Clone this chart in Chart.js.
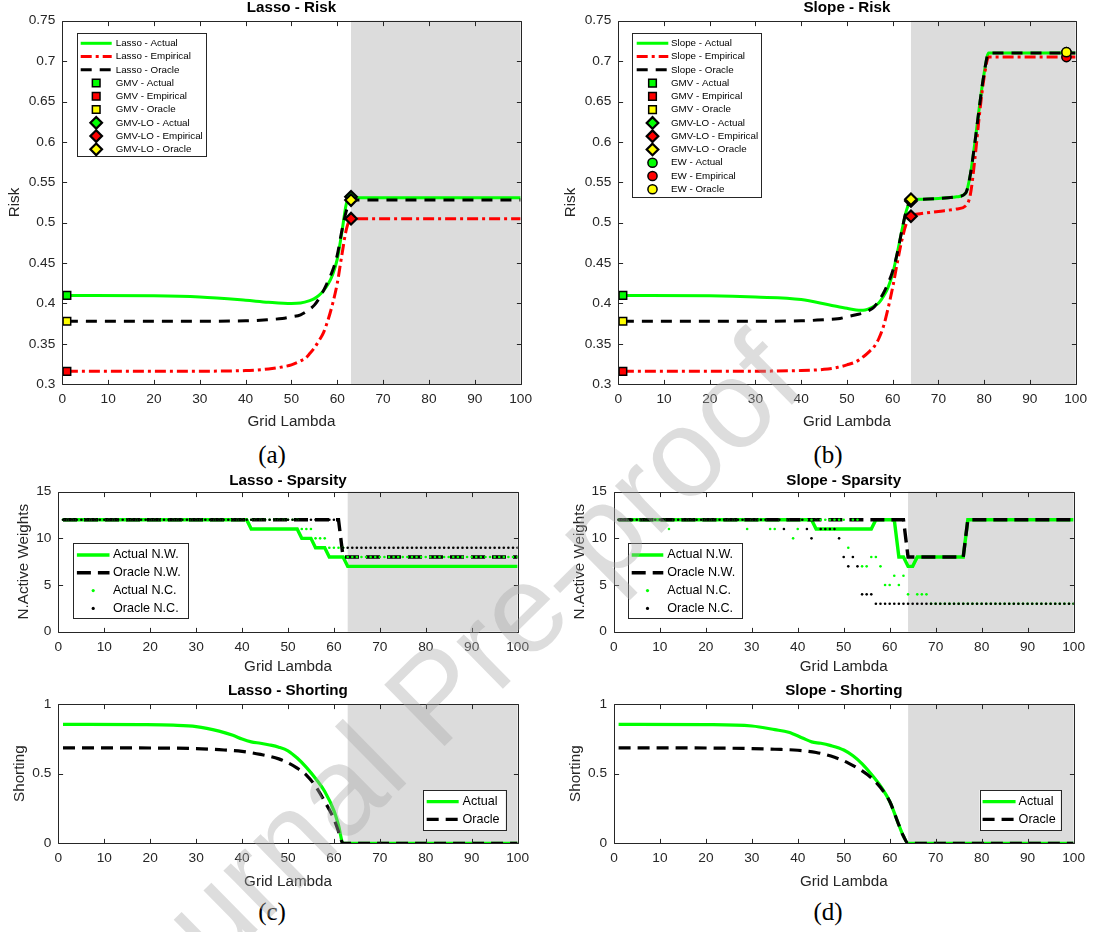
<!DOCTYPE html>
<html>
<head>
<meta charset="utf-8">
<title>Lasso / Slope - risk, sparsity, shorting</title>
<script src="https://cdn.jsdelivr.net/npm/chart.js@4.4.1/dist/chart.umd.min.js"></script>
<style>
  html, body { margin: 0; padding: 0; background: #fff; }
  body { position: relative; width: 1093px; height: 932px; overflow: hidden; }
  canvas { position: absolute; }
  .cap { position: absolute; font-family: "Liberation Serif", "DejaVu Serif", serif; font-size: 25px; color: #000;
         transform: translate(-50%, -50%); white-space: nowrap; }
  #wm { left: 0; top: 0; z-index: 5; pointer-events: none; }
</style>
</head>
<body>
<canvas id="riskLasso"></canvas>
<canvas id="riskSlope"></canvas>
<canvas id="sparLasso"></canvas>
<canvas id="sparSlope"></canvas>
<canvas id="shortLasso"></canvas>
<canvas id="shortSlope"></canvas>
<div class="cap" style="left:272px;top:455px">(a)</div>
<div class="cap" style="left:828px;top:455px">(b)</div>
<div class="cap" style="left:272px;top:912px">(c)</div>
<div class="cap" style="left:828px;top:912px">(d)</div>
<canvas id="wm" width="1093" height="932"></canvas>
<script>
// ---------- axes ----------
const lambdaGrid = Array.from({ length: 100 }, (_, i) => i + 1);
const lambdaTicks = [0, 10, 20, 30, 40, 50, 60, 70, 80, 90, 100];
const lambdaTickLabels = ['0', '10', '20', '30', '40', '50', '60', '70', '80', '90', '100'];
const riskTicks = [0.3, 0.35, 0.4, 0.45, 0.5, 0.55, 0.6, 0.65, 0.7, 0.75];
const riskTickLabels = ['0.3', '0.35', '0.4', '0.45', '0.5', '0.55', '0.6', '0.65', '0.7', '0.75'];
const sparsityTicks = [0, 5, 10, 15];
const sparsityTickLabels = ['0', '5', '10', '15'];
const shortingTicks = [0, 0.5, 1];
const shortingTickLabels = ['0', '0.5', '1'];
const shadedFrom = [63, 64]; // lasso, slope

// ---------- risk (a), (b) ----------
const lassoActualX = [1, 20, 30, 40, 45, 50, 52, 54, 55, 56, 57, 58, 59, 60, 61, 62, 63, 100];
const lassoActualY = [0.410, 0.4095, 0.408, 0.404, 0.4015, 0.400, 0.4005, 0.4035, 0.406, 0.410, 0.416, 0.424, 0.436, 0.455, 0.488, 0.524, 0.531, 0.531];
const lassoEmpiricalX = [1, 20, 40, 45, 48, 50, 52, 53, 54, 55, 56, 57, 58, 59, 60, 61, 62, 63, 100];
const lassoEmpiricalY = [0.316, 0.316, 0.317, 0.319, 0.3215, 0.324, 0.329, 0.332, 0.338, 0.345, 0.354, 0.364, 0.38, 0.40, 0.425, 0.46, 0.492, 0.505, 0.505];
const lassoOracleX = [1, 20, 40, 45, 48, 50, 52, 54, 55, 56, 57, 58, 59, 60, 61, 62, 63, 100];
const lassoOracleY = [0.378, 0.378, 0.3785, 0.380, 0.3815, 0.3835, 0.386, 0.393, 0.398, 0.406, 0.416, 0.428, 0.441, 0.46, 0.49, 0.515, 0.528, 0.528];

const slopeActualX = [1, 20, 30, 40, 46, 50, 52, 53, 54, 55, 56, 57, 58, 59, 60, 61, 62, 63, 64, 66, 70, 74, 76, 77, 78, 79, 80, 81, 100];
const slopeActualY = [0.410, 0.4095, 0.408, 0.405, 0.3985, 0.394, 0.392, 0.3915, 0.392, 0.394, 0.397, 0.401, 0.409, 0.42, 0.437, 0.462, 0.49, 0.515, 0.527, 0.529, 0.530, 0.532, 0.537, 0.56, 0.60, 0.645, 0.685, 0.71, 0.71];
const slopeEmpiricalX = [1, 20, 40, 45, 48, 50, 52, 54, 55, 56, 57, 58, 59, 60, 61, 62, 63, 64, 66, 70, 74, 76, 77, 78, 79, 80, 81, 100];
const slopeEmpiricalY = [0.316, 0.316, 0.317, 0.3185, 0.321, 0.324, 0.328, 0.336, 0.341, 0.347, 0.357, 0.372, 0.394, 0.42, 0.45, 0.478, 0.499, 0.508, 0.511, 0.514, 0.517, 0.521, 0.535, 0.58, 0.635, 0.68, 0.705, 0.705];
const slopeOracleX = [1, 20, 40, 45, 48, 50, 52, 54, 55, 56, 57, 58, 59, 60, 61, 62, 63, 64, 66, 70, 74, 76, 77, 78, 79, 80, 81, 100];
const slopeOracleY = [0.378, 0.378, 0.3785, 0.380, 0.381, 0.3835, 0.386, 0.389, 0.392, 0.396, 0.404, 0.413, 0.425, 0.44, 0.462, 0.49, 0.515, 0.528, 0.529, 0.530, 0.532, 0.537, 0.56, 0.60, 0.645, 0.685, 0.71, 0.71];

// markers: [actual, empirical, oracle]
const gmvLambda = 1;
const gmvRisk = [0.410, 0.316, 0.378];
const gmvloLambda = [63, 64]; // lasso, slope
const gmvloLassoRisk = [0.532, 0.505, 0.528];
const gmvloSlopeRisk = [0.527, 0.508, 0.529];
const ewLambda = 98;
const ewSlopeRisk = [0.711, 0.705, 0.711];

// ---------- sparsity (c), (d) : one value per lambda 1..100 ----------
const lassoActualNW = [
  12, 12, 12, 12, 12, 12, 12, 12, 12, 12,
  12, 12, 12, 12, 12, 12, 12, 12, 12, 12,
  12, 12, 12, 12, 12, 12, 12, 12, 12, 12,
  12, 12, 12, 12, 12, 12, 12, 12, 12, 12,
  12, 11, 11, 11, 11, 11, 11, 11, 11, 11,
  11, 11, 10, 10, 10, 9, 9, 9, 8, 8,
  8, 8, 7, 7, 7, 7, 7, 7, 7, 7,
  7, 7, 7, 7, 7, 7, 7, 7, 7, 7,
  7, 7, 7, 7, 7, 7, 7, 7, 7, 7,
  7, 7, 7, 7, 7, 7, 7, 7, 7, 7];
const lassoOracleNW = [
  12, 12, 12, 12, 12, 12, 12, 12, 12, 12,
  12, 12, 12, 12, 12, 12, 12, 12, 12, 12,
  12, 12, 12, 12, 12, 12, 12, 12, 12, 12,
  12, 12, 12, 12, 12, 12, 12, 12, 12, 12,
  12, 12, 12, 12, 12, 12, 12, 12, 12, 12,
  12, 12, 12, 12, 12, 12, 12, 12, 12, 12,
  12, 8, 8, 8, 8, 8, 8, 8, 8, 8,
  8, 8, 8, 8, 8, 8, 8, 8, 8, 8,
  8, 8, 8, 8, 8, 8, 8, 8, 8, 8,
  8, 8, 8, 8, 8, 8, 8, 8, 8, 8];
const lassoActualNC = [
  12, 12, 12, 12, 12, 12, 12, 12, 12, 12,
  12, 12, 12, 12, 12, 12, 12, 12, 12, 12,
  12, 12, 12, 12, 12, 12, 12, 12, 12, 12,
  12, 12, 12, 12, 12, 12, 12, 12, 12, 12,
  12, 12, 12, 12, 12, 12, 12, 12, 12, 12,
  12, 12, 11, 11, 11, 10, 10, 10, 9, 9,
  9, 9, 8, 8, 8, 8, 8, 8, 8, 8,
  8, 8, 8, 8, 8, 8, 8, 8, 8, 8,
  8, 8, 8, 8, 8, 8, 8, 8, 8, 8,
  8, 8, 8, 8, 8, 8, 8, 8, 8, 8];
const lassoOracleNC = [
  12, 12, 12, 12, 12, 12, 12, 12, 12, 12,
  12, 12, 12, 12, 12, 12, 12, 12, 12, 12,
  12, 12, 12, 12, 12, 12, 12, 12, 12, 12,
  12, 12, 12, 12, 12, 12, 12, 12, 12, 12,
  12, 12, 12, 12, 12, 12, 12, 12, 12, 12,
  12, 12, 12, 12, 12, 12, 12, 12, 12, 12,
  12, 9, 9, 9, 9, 9, 9, 9, 9, 9,
  9, 9, 9, 9, 9, 9, 9, 9, 9, 9,
  9, 9, 9, 9, 9, 9, 9, 9, 9, 9,
  9, 9, 9, 9, 9, 9, 9, 9, 9, 9];

const slopeActualNW = [
  12, 12, 12, 12, 12, 12, 12, 12, 12, 12,
  12, 12, 12, 12, 12, 12, 12, 12, 12, 12,
  12, 12, 12, 12, 12, 12, 12, 12, 12, 12,
  12, 12, 12, 12, 12, 12, 12, 12, 12, 12,
  12, 12, 12, 11, 11, 11, 11, 11, 11, 11,
  11, 11, 11, 11, 11, 11, 12, 12, 12, 12,
  12, 8, 8, 7, 7, 8, 8, 8, 8, 8,
  8, 8, 8, 8, 8, 8, 12, 12, 12, 12,
  12, 12, 12, 12, 12, 12, 12, 12, 12, 12,
  12, 12, 12, 12, 12, 12, 12, 12, 12, 12];
const slopeOracleNW = [
  12, 12, 12, 12, 12, 12, 12, 12, 12, 12,
  12, 12, 12, 12, 12, 12, 12, 12, 12, 12,
  12, 12, 12, 12, 12, 12, 12, 12, 12, 12,
  12, 12, 12, 12, 12, 12, 12, 12, 12, 12,
  12, 12, 12, 12, 12, 12, 12, 12, 12, 12,
  12, 12, 12, 12, 12, 12, 12, 12, 12, 12,
  12, 12, 12, 8, 8, 8, 8, 8, 8, 8,
  8, 8, 8, 8, 8, 8, 12, 12, 12, 12,
  12, 12, 12, 12, 12, 12, 12, 12, 12, 12,
  12, 12, 12, 12, 12, 12, 12, 12, 12, 12];
const slopeActualNC = [
  12, 12, 12, 12, 12, 12, 12, 12, 12, 12,
  12, 11, 12, 12, 12, 12, 12, 12, 12, 12,
  12, 12, 12, 12, 12, 12, 12, 12, 11, 12,
  12, 12, 12, 11, 11, 12, 12, 12, 10, 11,
  12, 12, 12, 12, 12, 12, 12, 12, 12, 12,
  9, 12, 12, 7, 7, 8, 8, 7, 5, 5,
  6, 5, 6, 4, 7, 4, 4, 4, 3, 3,
  3, 3, 3, 3, 3, 3, 3, 3, 3, 3,
  3, 3, 3, 3, 3, 3, 3, 3, 3, 3,
  3, 3, 3, 3, 3, 3, 3, 3, 3, 3];
const slopeOracleNC = [
  12, 12, 12, 12, 12, 12, 12, 12, 12, 12,
  12, 12, 12, 12, 12, 12, 12, 12, 12, 12,
  12, 12, 12, 12, 12, 12, 12, 12, 12, 12,
  12, 12, 12, 12, 12, 12, 11, 12, 12, 12,
  12, 11, 10, 12, 11, 11, 11, 11, 10, 8,
  7, 8, 7, 4, 4, 4, 3, 3, 3, 3,
  3, 3, 3, 3, 3, 3, 3, 3, 3, 3,
  3, 3, 3, 3, 3, 3, 3, 3, 3, 3,
  3, 3, 3, 3, 3, 3, 3, 3, 3, 3,
  3, 3, 3, 3, 3, 3, 3, 3, 3, 3];

// ---------- shorting (c), (d) ----------
const lassoShortActualX = [1, 18, 25, 30, 35, 38, 40, 42, 44, 46, 48, 50, 52, 54, 56, 58, 60, 61, 62, 100];
const lassoShortActualY = [0.854, 0.852, 0.848, 0.838, 0.805, 0.775, 0.748, 0.728, 0.718, 0.706, 0.690, 0.664, 0.612, 0.545, 0.465, 0.372, 0.235, 0.13, 0, 0];
const lassoShortOracleX = [1, 20, 30, 35, 40, 44, 48, 50, 52, 54, 56, 58, 60, 61, 62, 100];
const lassoShortOracleY = [0.685, 0.684, 0.68, 0.672, 0.66, 0.638, 0.606, 0.578, 0.54, 0.49, 0.41, 0.30, 0.175, 0.085, 0, 0];
const slopeShortActualX = [1, 20, 30, 35, 38, 41, 43, 45, 47, 50, 52, 54, 56, 58, 60, 62, 63, 64, 100];
const slopeShortActualY = [0.854, 0.852, 0.842, 0.816, 0.797, 0.756, 0.728, 0.718, 0.703, 0.67, 0.628, 0.57, 0.495, 0.41, 0.30, 0.13, 0.05, 0, 0];
const slopeShortOracleX = [1, 20, 30, 35, 40, 44, 48, 51, 54, 56, 58, 60, 62, 63, 64, 100];
const slopeShortOracleY = [0.685, 0.684, 0.68, 0.675, 0.668, 0.652, 0.618, 0.576, 0.52, 0.47, 0.40, 0.30, 0.13, 0.05, 0, 0];

// ---------- styling ----------
const GREEN = '#00ff00', RED = '#ff0000', BLACK = '#000000', YELLOW = '#ffff00';
const SHADE = '#dcdcdc', AXIS = '#262626';
const FONT = '"Liberation Sans", Arial, Helvetica, sans-serif';
Chart.defaults.font.family = FONT;

function curve(label, xs, ys, color, width, dash) {
  return { label, data: xs.map((x, i) => ({ x, y: ys[i] })), borderColor: color, backgroundColor: color,
    borderWidth: width, borderDash: dash || [], pointRadius: 0, cubicInterpolationMode: 'monotone', showLine: true };
}
function steps(label, ys, color, width, dash) {
  return { label, data: ys.map((y, i) => ({ x: lambdaGrid[i], y })), borderColor: color, backgroundColor: color,
    borderWidth: width, borderDash: dash || [], pointRadius: 0, tension: 0, showLine: true };
}
function dots(label, ys, color) {
  return { label, data: ys.map((y, i) => ({ x: lambdaGrid[i], y })), showLine: false, pointStyle: 'circle',
    pointRadius: 1.3, pointBackgroundColor: color, pointBorderColor: color, pointBorderWidth: 0, borderColor: color };
}
function marker(label, x, y, style, fill, r, bw) {
  return { label, data: [{ x, y }], showLine: false, pointStyle: style, pointRadius: r,
    pointBackgroundColor: fill, pointBorderColor: '#000', pointBorderWidth: bw };
}

function drawMarker(ctx, style, x, y, r, fill, stroke, lw) {
  ctx.beginPath();
  if (style === 'rect') {
    const s = r * Math.SQRT1_2;
    ctx.rect(x - s, y - s, 2 * s, 2 * s);
  } else if (style === 'rectRot') {
    ctx.moveTo(x, y - r); ctx.lineTo(x + r, y); ctx.lineTo(x, y + r); ctx.lineTo(x - r, y); ctx.closePath();
  } else {
    ctx.arc(x, y, r, 0, Math.PI * 2);
  }
  ctx.fillStyle = fill; ctx.fill();
  if (lw) { ctx.lineWidth = lw; ctx.strokeStyle = stroke; ctx.stroke(); }
}

// grey band after the selected lambda
const shadePlugin = {
  id: 'shade',
  beforeDatasetsDraw(chart, args, opts) {
    if (opts.from == null) return;
    const { ctx, chartArea: a } = chart;
    const px = chart.scales.x.getPixelForValue(opts.from);
    ctx.save();
    ctx.fillStyle = SHADE;
    ctx.fillRect(px, a.top, a.right - px, a.bottom - a.top);
    ctx.restore();
  }
};

// matlab style box with inward ticks on all four sides
const boxPlugin = {
  id: 'mbox',
  afterDatasetsDraw(chart) {
    const { ctx, chartArea: a, scales: { x, y } } = chart;
    const L = Math.round(a.left) + 0.5, R = Math.round(a.right) + 0.5;
    const T = Math.round(a.top) + 0.5, B = Math.round(a.bottom) + 0.5;
    const len = 4.6;
    ctx.save();
    ctx.strokeStyle = AXIS; ctx.lineWidth = 1;
    ctx.beginPath();
    ctx.rect(L, T, R - L, B - T);
    x.ticks.forEach(t => {
      const px = Math.round(x.getPixelForValue(t.value)) + 0.5;
      ctx.moveTo(px, B); ctx.lineTo(px, B - len);
      ctx.moveTo(px, T); ctx.lineTo(px, T + len);
    });
    y.ticks.forEach(t => {
      const py = Math.round(y.getPixelForValue(t.value)) + 0.5;
      ctx.moveTo(L, py); ctx.lineTo(L + len, py);
      ctx.moveTo(R, py); ctx.lineTo(R - len, py);
    });
    ctx.stroke();
    ctx.restore();
  }
};

// legend drawn inside the axes, like matlab
const legendPlugin = {
  id: 'mlegend',
  afterDraw(chart, args, o) {
    if (!o.w) return;
    const { ctx, chartArea: a } = chart;
    const bx = o.right != null ? a.right - o.right - o.w : a.left + o.left;
    const by = a.top + o.top;
    ctx.save();
    ctx.fillStyle = '#fff';
    ctx.fillRect(bx, by, o.w, o.h);
    ctx.strokeStyle = AXIS; ctx.lineWidth = 1;
    ctx.strokeRect(Math.round(bx) + 0.5, Math.round(by) + 0.5, Math.round(o.w), Math.round(o.h));
    ctx.font = o.font + 'px ' + FONT;
    ctx.textBaseline = 'middle';
    ctx.textAlign = 'left';
    chart.data.datasets.forEach((ds, i) => {
      const cy = by + o.first + i * o.step;
      if (ds.showLine) {
        ctx.beginPath();
        ctx.setLineDash(ds.borderDash || []);
        ctx.lineWidth = ds.borderWidth; ctx.strokeStyle = ds.borderColor;
        ctx.moveTo(bx + o.s0, cy); ctx.lineTo(bx + o.s1, cy);
        ctx.stroke();
        ctx.setLineDash([]);
      } else {
        const r = ds.pointRadius < 2 ? 1.6 : ds.pointRadius;
        drawMarker(ctx, ds.pointStyle, bx + (o.s0 + o.s1) / 2, cy, r, ds.pointBackgroundColor, ds.pointBorderColor, ds.pointBorderWidth);
      }
      ctx.fillStyle = '#000';
      ctx.fillText(ds.label, bx + o.tx, cy);
    });
    ctx.restore();
  }
};

Chart.register(shadePlugin, boxPlugin, legendPlugin);

// page positions: canvas left/top, plot box, title / axis-label centres
const geom = {
  riskLasso:  { cl: 0,   ct: 0,   pl: 62.3,  pt: 20.7,  pr: 523,  pb: 384.3, titleY: 7.7, xTitleY: 421.5, yTitleX: 15 },
  riskSlope:  { cl: 556, ct: 0,   pl: 618.3, pt: 20.7,  pr: 1078, pb: 384.3, titleY: 7.7, xTitleY: 421.5, yTitleX: 571 },
  sparLasso:  { cl: 0,   ct: 470, pl: 58.4,  pt: 491.7, pr: 520,  pb: 631.7, titleY: 481, xTitleY: 667,   yTitleX: 24 },
  sparSlope:  { cl: 556, ct: 470, pl: 613.8, pt: 491.7, pr: 1076, pb: 631.7, titleY: 481, xTitleY: 667,   yTitleX: 579.6 },
  shortLasso: { cl: 0,   ct: 680, pl: 58.4,  pt: 704,   pr: 520,  pb: 843.3, titleY: 691, xTitleY: 881.5, yTitleX: 19.8 },
  shortSlope: { cl: 556, ct: 680, pl: 614,   pt: 704,   pr: 1076, pb: 843.3, titleY: 691, xTitleY: 881.5, yTitleX: 575.4 }
};

function build(id, cfg) {
  const g = geom[id];
  const cv = document.getElementById(id);
  const w = Math.round(g.pr + 16 - g.cl);
  const h = Math.round(g.xTitleY + 12 - g.ct);
  cv.width = w; cv.height = h;
  cv.style.left = g.cl + 'px'; cv.style.top = g.ct + 'px';
  cv.style.width = w + 'px'; cv.style.height = h + 'px';

  const titleSize = 15.2, labelSize = 15.2, labelLH = labelSize * 1.2;
  const tPadTop = g.titleY - g.ct - titleSize / 2;
  const tPadBottom = g.pt - g.ct - titleSize - tPadTop;
  const yAxisW = g.pl - g.cl;
  const xAxisH = h - (g.pb - g.ct);
  const rightPad = w - (g.pr - g.cl);
  const xTitlePad = (g.ct + h) - g.xTitleY - labelLH / 2;
  const yTitlePad = g.yTitleX - g.cl - labelLH / 2;
  const n = cfg.datasets.length;
  cfg.datasets.forEach((d, i) => { d.order = n - i; });

  return new Chart(cv, {
    type: 'line',
    data: { datasets: cfg.datasets },
    options: {
      responsive: false,
      animation: false,
      devicePixelRatio: 1,
      events: [],
      layout: { padding: { left: 0, top: 0, right: rightPad, bottom: 0 } },
      scales: {
        x: {
          type: 'linear', min: 0, max: 100,
          grid: { display: false, drawTicks: false }, border: { display: false },
          afterBuildTicks: s => { s.ticks = lambdaTicks.map(v => ({ value: v })); },
          afterFit: s => { s.height = xAxisH; },
          ticks: { autoSkip: false, maxRotation: 0, padding: 7, color: AXIS, font: { size: 13.7 },
                   callback: (v, i) => lambdaTickLabels[i] },
          title: { display: true, text: 'Grid Lambda', color: AXIS, font: { size: labelSize },
                   padding: { top: 0, bottom: xTitlePad } }
        },
        y: {
          type: 'linear', min: cfg.yTicks[0], max: cfg.yTicks[cfg.yTicks.length - 1],
          grid: { display: false, drawTicks: false }, border: { display: false },
          afterBuildTicks: s => { s.ticks = cfg.yTicks.map(v => ({ value: v })); },
          afterFit: s => { s.width = yAxisW; },
          ticks: { autoSkip: false, padding: 7, color: AXIS, font: { size: 13.7 },
                   callback: (v, i) => cfg.yLabels[i] },
          title: { display: true, text: cfg.yTitle, color: AXIS, font: { size: labelSize },
                   padding: { top: yTitlePad, bottom: 0 } }
        }
      },
      plugins: {
        legend: { display: false },
        tooltip: { enabled: false },
        title: { display: true, text: cfg.title, fullSize: false, color: '#000',
                 font: { size: titleSize, weight: 'bold', lineHeight: 1 },
                 padding: { top: tPadTop, bottom: tPadBottom } },
        shade: { from: cfg.shade },
        mlegend: cfg.legend
      }
    }
  });
}

// (a) Lasso - Risk
build('riskLasso', {
  title: 'Lasso - Risk', yTitle: 'Risk', yTicks: riskTicks, yLabels: riskTickLabels, shade: shadedFrom[0],
  legend: { left: 14.4, top: 12.6, w: 129, h: 123.4, first: 10, step: 13.25, s0: 4, s1: 35, tx: 39, font: 9.8 },
  datasets: [
    curve('Lasso - Actual', lassoActualX, lassoActualY, GREEN, 3),
    curve('Lasso - Empirical', lassoEmpiricalX, lassoEmpiricalY, RED, 3, [11, 4, 3, 4]),
    curve('Lasso - Oracle', lassoOracleX, lassoOracleY, BLACK, 3, [11, 8]),
    marker('GMV - Actual', gmvLambda, gmvRisk[0], 'rect', GREEN, 5.4, 1.5),
    marker('GMV - Empirical', gmvLambda, gmvRisk[1], 'rect', RED, 5.4, 1.5),
    marker('GMV - Oracle', gmvLambda, gmvRisk[2], 'rect', YELLOW, 5.4, 1.5),
    marker('GMV-LO - Actual', gmvloLambda[0], gmvloLassoRisk[0], 'rectRot', GREEN, 5.8, 2.2),
    marker('GMV-LO - Empirical', gmvloLambda[0], gmvloLassoRisk[1], 'rectRot', RED, 5.8, 2.2),
    marker('GMV-LO - Oracle', gmvloLambda[0], gmvloLassoRisk[2], 'rectRot', YELLOW, 5.8, 2.2)
  ]
});

// (b) Slope - Risk
build('riskSlope', {
  title: 'Slope - Risk', yTitle: 'Risk', yTicks: riskTicks, yLabels: riskTickLabels, shade: shadedFrom[1],
  legend: { left: 14, top: 12.6, w: 129.4, h: 164, first: 10, step: 13.27, s0: 4.4, s1: 36, tx: 38.7, font: 9.8 },
  datasets: [
    curve('Slope - Actual', slopeActualX, slopeActualY, GREEN, 3),
    curve('Slope - Empirical', slopeEmpiricalX, slopeEmpiricalY, RED, 3, [11, 4, 3, 4]),
    curve('Slope - Oracle', slopeOracleX, slopeOracleY, BLACK, 3, [11, 8]),
    marker('GMV - Actual', gmvLambda, gmvRisk[0], 'rect', GREEN, 5.4, 1.5),
    marker('GMV - Empirical', gmvLambda, gmvRisk[1], 'rect', RED, 5.4, 1.5),
    marker('GMV - Oracle', gmvLambda, gmvRisk[2], 'rect', YELLOW, 5.4, 1.5),
    marker('GMV-LO - Actual', gmvloLambda[1], gmvloSlopeRisk[0], 'rectRot', GREEN, 5.8, 2.2),
    marker('GMV-LO - Empirical', gmvloLambda[1], gmvloSlopeRisk[1], 'rectRot', RED, 5.8, 2.2),
    marker('GMV-LO - Oracle', gmvloLambda[1], gmvloSlopeRisk[2], 'rectRot', YELLOW, 5.8, 2.2),
    marker('EW - Actual', ewLambda, ewSlopeRisk[0], 'circle', GREEN, 4.6, 1.5),
    marker('EW - Empirical', ewLambda, ewSlopeRisk[1], 'circle', RED, 4.6, 1.5),
    marker('EW - Oracle', ewLambda, ewSlopeRisk[2], 'circle', YELLOW, 4.6, 1.5)
  ]
});

// (c) Lasso - Sparsity
build('sparLasso', {
  title: 'Lasso - Sparsity', yTitle: 'N.Active Weights', yTicks: sparsityTicks, yLabels: sparsityTickLabels, shade: shadedFrom[0],
  legend: { left: 14.5, top: 51.6, w: 114.5, h: 74.7, first: 11.7, step: 17.8, s0: 4, s1: 36.6, tx: 40, font: 12.6 },
  datasets: [
    steps('Actual N.W.', lassoActualNW, GREEN, 3.4),
    steps('Oracle N.W.', lassoOracleNW, BLACK, 3.4, [14, 7]),
    dots('Actual N.C.', lassoActualNC, GREEN),
    dots('Oracle N.C.', lassoOracleNC, BLACK)
  ]
});

// (d) Slope - Sparsity
build('sparSlope', {
  title: 'Slope - Sparsity', yTitle: 'N.Active Weights', yTicks: sparsityTicks, yLabels: sparsityTickLabels, shade: shadedFrom[1],
  legend: { left: 14.5, top: 51.6, w: 114, h: 75, first: 11.7, step: 17.8, s0: 3.4, s1: 35, tx: 39, font: 12.6 },
  datasets: [
    steps('Actual N.W.', slopeActualNW, GREEN, 3.4),
    steps('Oracle N.W.', slopeOracleNW, BLACK, 3.4, [14, 7]),
    dots('Actual N.C.', slopeActualNC, GREEN),
    dots('Oracle N.C.', slopeOracleNC, BLACK)
  ]
});

// (c) Lasso - Shorting
build('shortLasso', {
  title: 'Lasso - Shorting', yTitle: 'Shorting', yTicks: shortingTicks, yLabels: shortingTickLabels, shade: shadedFrom[0],
  legend: { right: 12, top: 86, w: 82.6, h: 40, first: 11.7, step: 17.6, s0: 3.7, s1: 35.7, tx: 39.5, font: 12.6 },
  datasets: [
    curve('Actual', lassoShortActualX, lassoShortActualY, GREEN, 3.2),
    curve('Oracle', lassoShortOracleX, lassoShortOracleY, BLACK, 3.2, [12, 7])
  ]
});

// (d) Slope - Shorting
build('shortSlope', {
  title: 'Slope - Shorting', yTitle: 'Shorting', yTicks: shortingTicks, yLabels: shortingTickLabels, shade: shadedFrom[1],
  legend: { right: 13, top: 86, w: 81, h: 40, first: 11.7, step: 17.6, s0: 3, s1: 36, tx: 39, font: 12.6 },
  datasets: [
    curve('Actual', slopeShortActualX, slopeShortActualY, GREEN, 3.2),
    curve('Oracle', slopeShortOracleX, slopeShortOracleY, BLACK, 3.2, [12, 7])
  ]
});

// "Journal Pre-proof" stamp over the figure
const wm = document.getElementById('wm').getContext('2d');
wm.save();
wm.translate(120, 1065);
wm.rotate(-44.5 * Math.PI / 180);
wm.font = '125px ' + FONT;
wm.fillStyle = 'rgba(170,170,170,0.4)';
wm.fillText('Journal Pre-proof', 0, 0);
wm.restore();
</script>
</body>
</html>
